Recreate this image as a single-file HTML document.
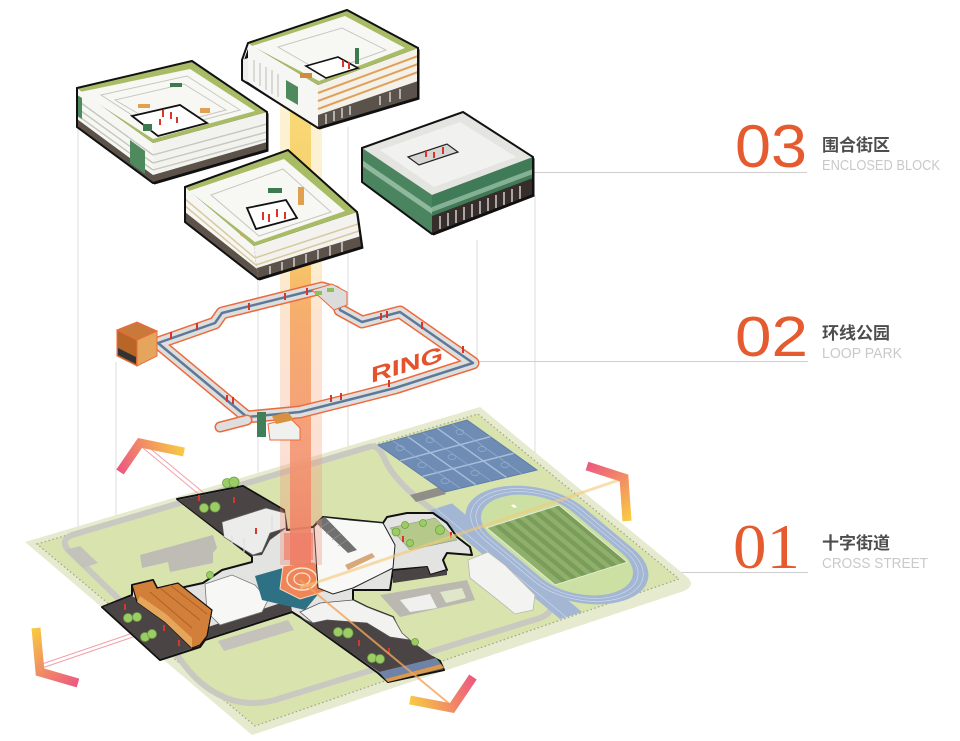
<!DOCTYPE html>
<html><head><meta charset="utf-8"><style>
html,body{margin:0;padding:0;background:#fff;}
svg{display:block;}
</style></head><body>
<svg width="960" height="741" viewBox="0 0 960 741" xmlns="http://www.w3.org/2000/svg">
<defs>
 <linearGradient id="beam" x1="0" y1="100" x2="0" y2="570" gradientUnits="userSpaceOnUse">
  <stop offset="0" stop-color="#f7d86c"/>
  <stop offset="0.35" stop-color="#f6c15c"/>
  <stop offset="0.45" stop-color="#f5a862"/>
  <stop offset="0.75" stop-color="#f39672"/>
  <stop offset="1" stop-color="#ee7a62"/>
 </linearGradient>
 <linearGradient id="ch1" x1="120" y1="472" x2="183" y2="452" gradientUnits="userSpaceOnUse"><stop offset="0" stop-color="#ec5a80"/><stop offset="1" stop-color="#f8c843"/></linearGradient>
 <linearGradient id="ch2" x1="36" y1="628" x2="78" y2="683" gradientUnits="userSpaceOnUse"><stop offset="0" stop-color="#f8c843"/><stop offset="1" stop-color="#ec5a80"/></linearGradient>
 <linearGradient id="ch3" x1="410" y1="700" x2="473" y2="677" gradientUnits="userSpaceOnUse"><stop offset="0" stop-color="#f8c843"/><stop offset="1" stop-color="#ec5a80"/></linearGradient>
 <linearGradient id="ch4" x1="587" y1="466" x2="627" y2="520" gradientUnits="userSpaceOnUse"><stop offset="0" stop-color="#ec5a80"/><stop offset="1" stop-color="#f8c843"/></linearGradient>
</defs>

<!-- projection lines -->
<g stroke="#dcdcdc" stroke-width="1">
 <line x1="78" y1="127" x2="78" y2="545"/>
 <line x1="116" y1="362" x2="116" y2="605"/>
 <line x1="258" y1="180" x2="258" y2="700"/>
 <line x1="348" y1="127" x2="348" y2="470"/>
 <line x1="477" y1="240" x2="477" y2="362"/>
 <line x1="535" y1="195" x2="535" y2="613"/>
</g>
<!-- label lines -->
<g stroke="#cfcfcf" stroke-width="1">
 <line x1="533" y1="172.5" x2="807" y2="172.5"/>
 <line x1="478" y1="361.5" x2="808" y2="361.5"/>
 <line x1="460" y1="572.5" x2="808" y2="572.5"/>
</g>

<!-- ground plane -->
<path d="M25,542 L480,407 L686,576 Q697,585 684,591 L252,735 Z" fill="#e6ebd0"/>
<path d="M37,544 L478,414 L679,579 L255,726 Z" fill="#d9e3ae"/>
<path d="M37,544 L478,414 L679,579 L255,726 Z" fill="none" stroke="#a4a690" stroke-width="1.3" stroke-dasharray="1.5 2.5"/>
<!-- roads -->
<path d="M372,446 L72,535 Q60,540 68,550 L178,656 Q200,690 232,700 Q252,706 275,700 L540,618 Q556,612 548,600 L430,508 Q395,482 385,460 Q380,447 372,446" fill="none" stroke="#cac9c1" stroke-width="6"/>
<!-- footprints -->
<polygon points="140,555 213,535 217,548 213,553 213,563 170,572 168,562 142,568" fill="#bebcb4"/>
<polygon points="218,641 288,620 294,630 224,651" fill="#c4c2ba"/>
<polygon points="65,550 80,546 98,563 83,568" fill="#c4c3bb"/>
<polygon points="410,495 440,487 446,494 416,502" fill="#8f8e89"/>

<!-- courts -->
<polygon points="378,445 467,420 537,470 445,492" fill="#6f8db4" stroke="#5f7ea6" stroke-width="1"/>
<g stroke="#a8bfdc" stroke-width="1.4">
 <line x1="407.7" y1="436.7" x2="475.7" y2="484.7"/>
 <line x1="437.3" y1="428.3" x2="506.3" y2="477.3"/>
 <line x1="400.3" y1="460.7" x2="490.3" y2="436.7"/>
 <line x1="422.7" y1="476.3" x2="513.7" y2="453.3"/>
</g>
<g stroke="#95aed0" stroke-width="0.7" fill="none">
 <line x1="392.8" y1="440.8" x2="460.3" y2="488.3"/>
 <line x1="422.5" y1="432.5" x2="491" y2="481"/>
 <line x1="452.2" y1="424.2" x2="521.8" y2="473.8"/>
 <ellipse cx="400" cy="448" rx="4" ry="2.5"/><ellipse cx="430" cy="440" rx="4" ry="2.5"/><ellipse cx="460" cy="432" rx="4" ry="2.5"/>
 <ellipse cx="422" cy="465" rx="4" ry="2.5"/><ellipse cx="452" cy="457" rx="4" ry="2.5"/><ellipse cx="482" cy="449" rx="4" ry="2.5"/>
 <ellipse cx="445" cy="481" rx="4" ry="2.5"/><ellipse cx="475" cy="473" rx="4" ry="2.5"/><ellipse cx="505" cy="465" rx="4" ry="2.5"/>
</g>

<!-- track -->
<g transform="matrix(0.813,0.679,-1.0,0.317,557,545)">
 <rect x="-80" y="40" width="160" height="22" fill="#a3b6d4"/>
 <rect x="-82" y="-52" width="164" height="104" rx="52" ry="52" fill="#a3b6d4"/>
 <rect x="-78" y="-48" width="156" height="96" rx="48" ry="48" fill="none" stroke="#d4def0" stroke-width="0.6" vector-effect="non-scaling-stroke"/>
 <rect x="-74" y="-44" width="148" height="88" rx="44" ry="44" fill="none" stroke="#d4def0" stroke-width="0.6" vector-effect="non-scaling-stroke"/>
 <line x1="-80" y1="56" x2="80" y2="56" stroke="#d4def0" stroke-width="0.6" vector-effect="non-scaling-stroke"/>
 <rect x="-70" y="-40" width="140" height="80" rx="40" ry="40" fill="#cde0a3"/>
 <rect x="-42" y="-36" width="84" height="72" fill="#8fb06c"/>
 <g fill="#7a9d5a">
  <rect x="-42" y="-36" width="84" height="5"/><rect x="-42" y="-26" width="84" height="5"/><rect x="-42" y="-16" width="84" height="5"/>
  <rect x="-42" y="-6" width="84" height="5"/><rect x="-42" y="4" width="84" height="5"/><rect x="-42" y="14" width="84" height="5"/>
  <rect x="-42" y="24" width="84" height="5"/>
 </g>
 <rect x="-42" y="-36" width="84" height="72" fill="none" stroke="#e9f0dc" stroke-width="0.8" vector-effect="non-scaling-stroke"/>
 <rect x="-58" y="-4" width="4" height="3" fill="#ffffff"/>
</g>

<!-- white bldg near track, sunken court -->
<polygon points="468,560 488,552 505,565 535,595 533,610 515,614 498,600 470,578" fill="#f3f3f1" stroke="#b8b8b2" stroke-width="0.8"/>
<polygon points="380,595 467,580 475,600 400,617" fill="#bab8b1"/>
<polygon points="400,600 430,594 437,608 410,612" fill="#f0f0ee"/>
<polygon points="440,592 462,588 466,598 446,603" fill="#dfe6c9"/>

<!-- axis lines -->
<g fill="none" stroke-width="1">
 <line x1="143" y1="448" x2="300" y2="578" stroke="#f2a0aa"/>
 <line x1="146" y1="445" x2="303" y2="575" stroke="#f2a0aa"/>
 <line x1="42" y1="668" x2="300" y2="580" stroke="#f2a0aa"/>
 <line x1="42" y1="664" x2="300" y2="576" stroke="#f2a0aa"/>
</g>

<!-- cross street -->
<polygon points="177,499 243,486 284,510 287,530 313,527 323,517 383,523 387,517 407,513 433,513 447,523 457,537 470,547 472,555 447,553 443,560 447,570 430,575 427,567 393,570 390,590 353,590 353,600 367,607 393,617 400,633 413,647 440,661 444,670 388,682 378,673 300,617 292,612 205,640 200,647 160,660 102,607 132,595 132,585 153,580 157,588 180,588 203,583 222,570 252,562 252,557" fill="#e3e3e1" stroke="#111" stroke-width="2" stroke-linejoin="round"/>
<g fill="#4a4444">
 <polygon points="178,500 243,487 283,510 285,529 270,540 262,555 252,556"/>
 <polygon points="103,607 132,596 150,606 199,640 199,646 160,659"/>
 <polygon points="205,628 290,600 292,611 205,639"/>
 <polygon points="300,617 313,623 327,620 367,623 390,637 410,640 439,661 443,669 388,681 379,672"/>
 <polygon points="393,571 427,567 430,575 447,570 447,575 393,583"/>
</g>
<polygon points="222,522 266,508 285,513 286,528 270,533 262,552 253,555 224,537" fill="#ececea" stroke="#666" stroke-width="0.7"/>
<g stroke="#ddd" stroke-width="1"><line x1="232" y1="535" x2="232" y2="548"/><line x1="244" y1="538" x2="244" y2="552"/><line x1="272" y1="515" x2="272" y2="530"/></g>
<polygon points="205,584 232,575 255,585 268,600 262,612 220,625 207,612" fill="#f7f7f5" stroke="#777" stroke-width="0.8"/>
<polygon points="300,612 320,603 353,600 367,607 393,617 402,633 410,640 390,637 367,623 327,620 313,623" fill="#f2f2f0" stroke="#555" stroke-width="0.8"/>
<polygon points="132,585 153,580 157,588 178,583 212,610 207,636 200,645 192,648 165,622 137,602" fill="#d27f39" stroke="#111" stroke-width="1.2"/>
<g stroke="#b0602a" stroke-width="1"><line x1="150" y1="592" x2="192" y2="628"/><line x1="160" y1="588" x2="200" y2="620"/><line x1="170" y1="585" x2="207" y2="614"/></g>
<polygon points="137,602 165,622 192,648 192,638 166,614 140,596" fill="#e5a55a"/>
<!-- center plaza -->
<polygon points="255,576 290,566 318,572 320,592 305,610 262,600" fill="#2f7184"/>
<polygon points="283,566 313,562 332,573 330,590 300,599 280,589" fill="#ef8658" stroke="#fcd8c4" stroke-width="1"/>
<ellipse cx="302" cy="579" rx="15" ry="11" fill="none" stroke="#fde3d4" stroke-width="1.5"/>
<ellipse cx="302" cy="579" rx="8" ry="6" fill="none" stroke="#fde3d4" stroke-width="1.2"/>
<!-- tall white bldg -->
<polygon points="314,527 323,517 350,520 383,523 395,545 393,568 353,588 333,594 318,588" fill="#f8f8f7" stroke="#222" stroke-width="1"/>
<polygon points="315,522 325,517 357,550 348,553" fill="#707070"/>
<g stroke="#999" stroke-width="0.6"><line x1="320" y1="528" x2="329" y2="522"/><line x1="326" y1="534" x2="335" y2="528"/><line x1="332" y1="540" x2="341" y2="534"/><line x1="338" y1="546" x2="347" y2="540"/></g>
<polygon points="345,565 372,553 375,557 348,570" fill="#d7a87a"/>
<!-- NE courtyard -->
<polygon points="390,528 435,518 457,540 410,550" fill="#b4c98a" stroke="#888" stroke-width="0.5"/>
<!-- SE station -->
<polygon points="379,672 436,658 441,664 385,679" fill="#6f82a8"/>
<polygon points="385,679 441,664 444,668 388,682" fill="#d99a50"/>

<!-- trees -->
<g fill="#9ccc65" stroke="#6ea040" stroke-width="0.8">
 <circle cx="204" cy="508" r="4.5"/><circle cx="215" cy="507" r="5"/><circle cx="227" cy="483" r="4.5"/><circle cx="234" cy="482" r="5"/>
 <circle cx="128" cy="618" r="4.5"/><circle cx="137" cy="617" r="4.5"/><circle cx="145" cy="637" r="4.5"/><circle cx="152" cy="634" r="4.5"/>
 <circle cx="210" cy="575" r="3.5"/>
 <circle cx="338" cy="632" r="4.5"/><circle cx="348" cy="633" r="5"/><circle cx="372" cy="658" r="4.5"/><circle cx="380" cy="659" r="4.5"/><circle cx="415" cy="642" r="3.5"/>
 <circle cx="396" cy="532" r="4"/><circle cx="405" cy="525" r="3.5"/><circle cx="423" cy="523" r="3.5"/><circle cx="440" cy="530" r="4.5"/><circle cx="410" cy="543" r="3.5"/>
</g>
<g fill="#d8352b">
 <rect x="198" y="495" width="2" height="6"/><rect x="233" y="497" width="2" height="6"/><rect x="255" y="528" width="2" height="6"/>
 <rect x="124" y="604" width="2" height="6"/><rect x="163" y="625" width="2" height="6"/><rect x="178" y="640" width="2" height="6"/>
 <rect x="358" y="640" width="2" height="6"/><rect x="388" y="648" width="2" height="6"/><rect x="402" y="536" width="2" height="6"/><rect x="450" y="532" width="2" height="6"/>
</g>

<!-- orange/yellow axis lines (over) -->
<line x1="300" y1="580" x2="452" y2="706" stroke="#f2a45c" stroke-width="2" opacity="0.8"/>
<line x1="300" y1="588" x2="622" y2="479" stroke="#f6c978" stroke-width="3" opacity="0.6"/>

<!-- beam -->
<rect x="280" y="100" width="42" height="465" fill="url(#beam)" opacity="0.3"/>
<rect x="290" y="100" width="21" height="465" fill="url(#beam)" opacity="0.9"/>
<rect x="284" y="533" width="29" height="27" fill="#ef7f6a" opacity="0.7"/>

<!-- chevrons -->
<g fill="none" stroke-width="9" stroke-linejoin="miter">
 <polyline points="120,472 140,443 184,452" stroke="url(#ch1)"/>
 <polyline points="36,628 40,672 78,683" stroke="url(#ch2)"/>
 <polyline points="410,700 452,708 473,677" stroke="url(#ch3)"/>
 <polyline points="587,466 624,478 627,521" stroke="url(#ch4)"/>
</g>

<!-- RING loop park -->
<g fill="none" stroke-linejoin="round" stroke-linecap="round">
 <polygon points="158,343 215,323 222,313 322,288 335,292 340,310 362,322 400,312 473,363 395,388 348,400 300,412 247,417" stroke="#ec6a3c" stroke-width="13"/>
 <polygon points="158,343 215,323 222,313 322,288 335,292 340,310 362,322 400,312 473,363 395,388 348,400 300,412 247,417" stroke="#dedede" stroke-width="10"/>
 <polygon points="158,343 215,323 222,313 322,288 335,292 340,310 362,322 400,312 473,363 395,388 348,400 300,412 247,417" stroke="#5e7998" stroke-width="2.5"/>
 <polyline points="220,427 247,420" stroke="#ec6a3c" stroke-width="11"/>
 <polyline points="220,427 247,420" stroke="#dedede" stroke-width="8"/>
</g>
<polygon points="312,290 332,284 347,292 347,305 334,310" fill="#dcdcdc" stroke="#ec6a3c" stroke-width="1"/>
<rect x="315" y="291" width="7" height="4" fill="#8cbf5a"/><rect x="327" y="288" width="7" height="4" fill="#8cbf5a"/>
<!-- orange box -->
<polygon points="117,330 137,322 157,331 137,340" fill="#c97a3a" stroke="#ec6a3c" stroke-width="1"/>
<polygon points="117,330 137,340 137,366 117,356" fill="#b86628" stroke="#ec6a3c" stroke-width="1"/>
<polygon points="137,340 157,331 157,356 137,366" fill="#e6a55c" stroke="#ec6a3c" stroke-width="1"/>
<polygon points="118,348 136,357 136,364 118,355" fill="#333"/>
<!-- ring bottom items -->
<rect x="257" y="412" width="9" height="25" fill="#3f7f5a"/>
<polygon points="268,424 290,418 300,428 300,440 270,440" fill="#f0f0ee" stroke="#ec6a3c" stroke-width="1"/>
<polygon points="272,416 288,412 294,420 276,424" fill="#d99040"/>
<g fill="#d8352b">
 <rect x="170" y="332" width="2" height="7"/><rect x="196" y="323" width="2" height="7"/><rect x="248" y="303" width="2" height="7"/>
 <rect x="284" y="293" width="2" height="7"/><rect x="306" y="288" width="2" height="7"/><rect x="380" y="313" width="2" height="7"/>
 <rect x="386" y="311" width="2" height="7"/><rect x="421" y="322" width="2" height="7"/><rect x="462" y="346" width="2" height="7"/>
 <rect x="226" y="395" width="2" height="7"/><rect x="232" y="397" width="2" height="7"/><rect x="330" y="395" width="2" height="7"/>
 <rect x="340" y="393" width="2" height="7"/><rect x="388" y="380" width="2" height="7"/>
</g>
<text transform="translate(371,383) skewY(-17)" font-family="Liberation Sans, sans-serif" font-weight="bold" font-size="22" fill="#e4532c" textLength="72" lengthAdjust="spacingAndGlyphs">RING</text>

<!-- Building D -->
<polygon points="362,148 463,112 533,157 533,195 432,234 362,182" fill="#111" transform="translate(1.5,1.5)"/>
<polygon points="362,148 432,195 432,234 362,182" fill="#4a8560"/>
<polygon points="362,160 432,208 432,214 362,166" fill="#8fb89c"/>
<polygon points="432,195 533,157 533,195 432,234" fill="#3f7b56"/>
<polygon points="432,207 533,169 533,174 432,212" fill="#86b093"/>
<polygon points="432,216 533,178 533,195 432,234" fill="#372e2b"/>
<g stroke="#e8e8e8" stroke-width="1.3">
 <line x1="440" y1="216" x2="440" y2="229"/><line x1="448" y1="213" x2="448" y2="226"/><line x1="456" y1="210" x2="456" y2="223"/>
 <line x1="464" y1="207" x2="464" y2="220"/><line x1="472" y1="204" x2="472" y2="217"/><line x1="480" y1="201" x2="480" y2="214"/>
 <line x1="488" y1="198" x2="488" y2="211"/><line x1="496" y1="195" x2="496" y2="208"/><line x1="504" y1="192" x2="504" y2="205"/>
 <line x1="512" y1="189" x2="512" y2="202"/><line x1="520" y1="186" x2="520" y2="199"/>
</g>
<polygon points="362,148 463,112 533,157 432,195" fill="#e4e4e1"/>
<polygon points="380,150 460,122 516,157 434,187" fill="#f1f1ef"/>
<polygon points="408,157 447,144 458,152 419,165" fill="#d6d6d4" stroke="#222" stroke-width="1.2"/>
<g fill="#d8352b"><rect x="425" y="150" width="2" height="7"/><rect x="433" y="152" width="2" height="6"/><rect x="442" y="147" width="2" height="7"/></g>
<polygon points="362,148 463,112 533,157 533,195 432,234 362,182" fill="none" stroke="#111" stroke-width="2"/>

<!-- Building A -->
<polygon points="77,88 192,61 267,112 267,150 153,183 77,127" fill="#111" transform="translate(1.5,1.5)"/>
<polygon points="77,88 153,143 153,183 77,127" fill="#f6f6f3"/>
<polygon points="153,143 267,112 267,150 153,183" fill="#f2f2ef"/>
<g stroke="#c6c6bd" stroke-width="1.4">
 <line x1="77" y1="100" x2="153" y2="155"/><line x1="77" y1="108" x2="153" y2="163"/><line x1="77" y1="115" x2="153" y2="170"/>
 <line x1="153" y1="155" x2="267" y2="124"/><line x1="153" y1="163" x2="267" y2="132"/><line x1="153" y1="170" x2="267" y2="139"/>
</g>
<polygon points="77,119 153,175 153,183 77,127" fill="#5c524a"/>
<polygon points="153,175 267,142 267,150 153,183" fill="#5c524a"/>
<polygon points="77,95 82,98 82,119 77,116" fill="#4f8a5f"/>
<polygon points="130,140 145,151 145,174 130,163" fill="#4f8a5f"/>
<polygon points="77,88 192,61 267,112 153,143" fill="#a8bc66"/>
<polygon points="80,92 190,69 255,111 153,139" fill="#f7f7f4"/>
<polygon points="101,95 187,76 240,110 158,132" fill="none" stroke="#c8c8c0" stroke-width="1"/>
<polygon points="115,100 184,84 226,110 161,127" fill="none" stroke="#c8c8c0" stroke-width="1"/>
<polygon points="132,116 180,105 207,123 158,136" fill="#fff" stroke="#111" stroke-width="1.8"/>
<rect x="138" y="104" width="12" height="4" fill="#e3a055"/><rect x="200" y="108" width="10" height="5" fill="#e3a055"/>
<rect x="143" y="124" width="9" height="7" fill="#3e7a50"/><rect x="170" y="83" width="12" height="4" fill="#3e7a50"/>
<g fill="#d8352b"><rect x="162" y="110" width="2" height="7"/><rect x="170" y="112" width="2" height="7"/><rect x="176" y="117" width="2" height="6"/><rect x="159" y="119" width="2" height="6"/></g>
<polygon points="77,88 192,61 267,112 267,150 153,183 77,127" fill="none" stroke="#111" stroke-width="2"/>

<!-- Building B -->
<polygon points="242,60 248,43 347,10 418,48 418,98 318,128 242,80" fill="#111" transform="translate(1.5,1.5)"/>
<polygon points="242,60 248,58 248,82 242,80" fill="#eeeeec"/>
<polygon points="248,43 318,85 318,128 248,82" fill="#f6f6f4"/>
<g stroke="#bdbdb6" stroke-width="1"><line x1="254" y1="60" x2="254" y2="82"/><line x1="260" y1="63" x2="260" y2="86"/><line x1="266" y1="67" x2="266" y2="90"/><line x1="272" y1="70" x2="272" y2="94"/><line x1="278" y1="74" x2="278" y2="97"/></g>
<polygon points="286,80 298,87 298,105 286,98" fill="#4f8a5f"/>
<polygon points="318,85 418,48 418,98 318,128" fill="#f4f1ea"/>
<g stroke="#e0a25a" stroke-width="2"><line x1="318" y1="93" x2="418" y2="56"/><line x1="318" y1="101" x2="418" y2="64"/><line x1="318" y1="109" x2="418" y2="72"/></g>
<polygon points="318,115 418,81 418,98 318,128" fill="#5b524b"/>
<g stroke="#eee" stroke-width="1.2"><line x1="326" y1="114" x2="326" y2="124"/><line x1="334" y1="111" x2="334" y2="121"/><line x1="342" y1="108" x2="342" y2="118"/><line x1="350" y1="106" x2="350" y2="115"/><line x1="380" y1="96" x2="380" y2="105"/><line x1="390" y1="92" x2="390" y2="102"/><line x1="400" y1="89" x2="400" y2="99"/></g>
<polygon points="248,43 347,10 418,48 318,85" fill="#a8bc66"/>
<polygon points="252,46 345,16 405,48 319,81" fill="#f7f7f4"/>
<polygon points="278,47 342,28 386,50 323,73" fill="none" stroke="#c8c8c0" stroke-width="1"/>
<polygon points="306,66 338,57 358,68 326,78" fill="#fff" stroke="#111" stroke-width="1.6"/>
<rect x="300" y="73" width="12" height="5" fill="#d48a3e"/>
<rect x="355" y="48" width="4" height="16" fill="#3e7a50"/>
<g fill="#d8352b"><rect x="342" y="60" width="2" height="7"/><rect x="348" y="62" width="2" height="7"/></g>
<polygon points="242,60 248,43 347,10 418,48 418,98 318,128 242,80" fill="none" stroke="#111" stroke-width="2"/>

<!-- Building C -->
<polygon points="185,187 288,150 357,212 362,247 258,279 185,222" fill="#111" transform="translate(1.5,1.5)"/>
<polygon points="185,187 254,246 258,279 185,222" fill="#f6f6f3"/>
<polygon points="254,246 357,212 362,247 258,279" fill="#f3f2ee"/>
<g stroke="#d9c9a0" stroke-width="1.5">
 <line x1="185" y1="199" x2="255" y2="258"/><line x1="185" y1="206" x2="256" y2="265"/>
 <line x1="255" y1="258" x2="358" y2="224"/><line x1="256" y1="265" x2="359" y2="231"/>
</g>
<polygon points="185,212 257,269 258,279 185,222" fill="#5c524a"/>
<polygon points="257,268 361,236 362,247 258,279" fill="#5c524a"/>
<g stroke="#eee" stroke-width="1.2"><line x1="270" y1="266" x2="270" y2="276"/><line x1="282" y1="262" x2="282" y2="272"/><line x1="294" y1="258" x2="294" y2="268"/><line x1="306" y1="254" x2="306" y2="264"/><line x1="318" y1="250" x2="318" y2="260"/><line x1="330" y1="246" x2="330" y2="256"/><line x1="342" y1="242" x2="342" y2="252"/></g>
<polygon points="240,217 247,222 247,240 240,235" fill="#e0a050"/>
<polygon points="185,187 288,150 357,212 254,246" fill="#a8bc66"/>
<polygon points="189,191 284,159 345,211 255,242" fill="#f7f7f4"/>
<polygon points="211,195 283,169 331,212 259,236" fill="none" stroke="#c8c8c0" stroke-width="1"/>
<polygon points="247,208 286,200 297,218 256,229" fill="#fff" stroke="#111" stroke-width="1.8"/>
<rect x="298" y="187" width="6" height="18" fill="#e0a050"/>
<rect x="268" y="188" width="14" height="5" fill="#3e7a50"/>
<g fill="#d8352b"><rect x="262" y="212" width="2" height="8"/><rect x="268" y="214" width="2" height="8"/><rect x="276" y="209" width="2" height="8"/><rect x="284" y="212" width="2" height="7"/></g>
<polygon points="185,187 288,150 357,212 362,247 258,279 185,222" fill="none" stroke="#111" stroke-width="2"/>

<!-- labels -->
<g font-family="Liberation Sans, sans-serif">
 <text x="735" y="167" font-size="60" fill="#e55b2f" textLength="72" lengthAdjust="spacingAndGlyphs">03</text>
 <text x="822" y="151" font-size="17" font-weight="bold" fill="#4d4d4d" font-family="Liberation Sans, Noto Sans CJK SC, sans-serif">围合街区</text>
 <text x="822" y="170" font-size="15" fill="#c9c9c9" textLength="118" lengthAdjust="spacingAndGlyphs">ENCLOSED BLOCK</text>
 <text x="735" y="356" font-size="57" fill="#e55b2f" textLength="73" lengthAdjust="spacingAndGlyphs">02</text>
 <text x="822" y="339" font-size="17" font-weight="bold" fill="#4d4d4d" font-family="Liberation Sans, Noto Sans CJK SC, sans-serif">环线公园</text>
 <text x="822" y="358" font-size="15" fill="#c9c9c9" textLength="80" lengthAdjust="spacingAndGlyphs">LOOP PARK</text>
 <text x="733" y="568" font-size="64" fill="#e55b2f" font-family="Liberation Serif, serif" textLength="67" lengthAdjust="spacingAndGlyphs">01</text>
 <text x="822" y="549" font-size="17" font-weight="bold" fill="#4d4d4d" font-family="Liberation Sans, Noto Sans CJK SC, sans-serif">十字街道</text>
 <text x="822" y="568" font-size="15" fill="#c9c9c9" textLength="106" lengthAdjust="spacingAndGlyphs">CROSS STREET</text>
</g>
</svg>
</body></html>
